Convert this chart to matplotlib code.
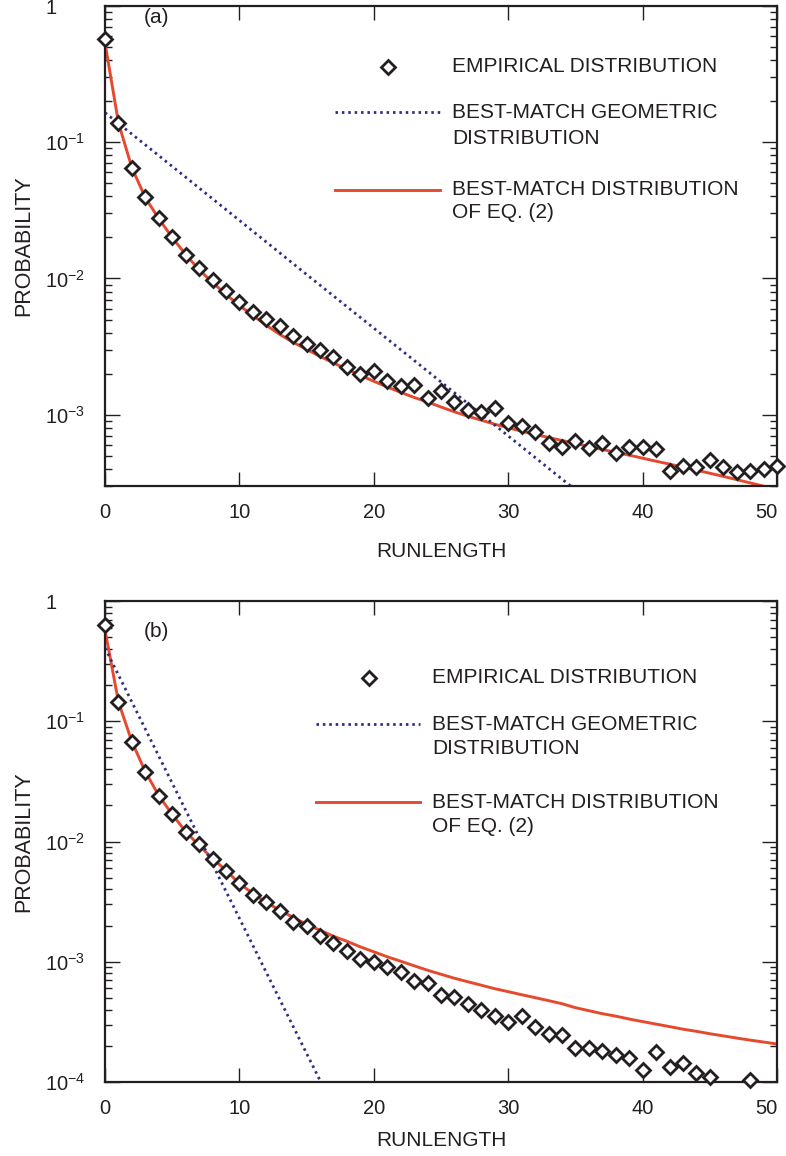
import numpy as np
import matplotlib
matplotlib.use("Agg")
import matplotlib.pyplot as plt
from matplotlib.ticker import FixedLocator, LogLocator, NullFormatter, FuncFormatter

plt.rcParams['font.family'] = ['Liberation Sans', 'DejaVu Sans']
plt.rcParams['mathtext.fontset'] = 'custom'
plt.rcParams['mathtext.rm'] = 'Liberation Sans'
plt.rcParams['mathtext.it'] = 'Liberation Sans:italic'

INK = '#231f20'
RED = '#e64a2e'
NAVY = '#2e2e86'

# ---- panel (a) ----
run_a = np.arange(0, 51)
emp_a = [0.570, 0.139, 0.0650, 0.0399, 0.0280, 0.0203, 0.0150, 0.0120, 0.00967, 0.00803,
         0.00667, 0.00563, 0.00501, 0.00445, 0.00376, 0.00328, 0.00297, 0.00264, 0.00223, 0.00198,
         0.00208, 0.00176, 0.00162, 0.00164, 0.00132, 0.00149, 0.00124, 0.00108, 0.00104, 0.00112,
         0.000867, 0.000824, 0.000745, 0.000618, 0.000578, 0.000640, 0.000569, 0.000618, 0.000522, 0.000578,
         0.000578, 0.000559, 0.000385, 0.000420, 0.000412, 0.000464, 0.000412, 0.000379, 0.000385, 0.000399,
         0.000420]
eq2_a = [0.536, 0.139, 0.0650, 0.0392, 0.0275, 0.0200, 0.0150, 0.0116, 0.00935, 0.00764,
         0.00634, 0.00536, 0.00453, 0.00389, 0.00340, 0.00302, 0.00268, 0.00240, 0.00216, 0.00195,
         0.00176, 0.00160, 0.00146, 0.00134, 0.00124, 0.00114, 0.00105, 0.000975, 0.000912, 0.000852,
         0.000803, 0.000757, 0.000717, 0.000681, 0.000647, 0.000615, 0.000585, 0.000556, 0.000530, 0.000505,
         0.000480, 0.000456, 0.000434, 0.000412, 0.000392, 0.000372, 0.000353, 0.000334, 0.000316, 0.000299,
         0.000284]
geo_x_a = [0, 5, 10, 15, 20, 25, 30, 35]
geo_a = [0.165, 0.0665, 0.0267, 0.0107, 0.00432, 0.00174, 0.000699, 0.000281]

# ---- panel (b) ----
run_b = [0, 1, 2, 3, 4, 5, 6, 7, 8, 9, 10, 11, 12, 13, 14, 15, 16, 17, 18, 19, 20, 21, 22, 23, 24,
         25, 26, 27, 28, 29, 30, 31, 32, 33, 34, 35, 36, 37, 38, 39, 40, 41, 42, 43, 44, 45, 48]
emp_b = [0.632, 0.145, 0.0676, 0.0381, 0.0241, 0.0168, 0.0119, 0.00945, 0.00709, 0.00564,
         0.00448, 0.00356, 0.00312, 0.00262, 0.00213, 0.00197, 0.00163, 0.00143, 0.00122, 0.00105,
         0.000991, 0.000900, 0.000818, 0.000689, 0.000663, 0.000527, 0.000508, 0.000444, 0.000396, 0.000353,
         0.000315, 0.000353, 0.000286, 0.000250, 0.000245, 0.000191, 0.000191, 0.000181, 0.000168, 0.000158,
         0.000126, 0.000177, 0.000133, 0.000144, 0.000119, 0.000110, 0.000104]
eq2_x_b = np.arange(0, 51)
eq2_b = [0.574, 0.145, 0.0676, 0.0381, 0.0241, 0.0168, 0.0121, 0.00927, 0.00723, 0.00575,
         0.00448, 0.00370, 0.00312, 0.00268, 0.00234, 0.00205, 0.00183, 0.00163, 0.00148, 0.00133,
         0.00121, 0.00110, 0.00101, 0.000926, 0.000850, 0.000787, 0.000729, 0.000682, 0.000638, 0.000597,
         0.000564, 0.000532, 0.000503, 0.000475, 0.000448, 0.000415, 0.000392, 0.000370, 0.000353, 0.000334,
         0.000318, 0.000303, 0.000289, 0.000275, 0.000264, 0.000252, 0.000242, 0.000232, 0.000223, 0.000215,
         0.000207]
geo_x_b = [0, 4, 8, 12, 16, 17]
geo_b = [0.407, 0.0513, 0.00647, 0.000815, 0.000103, 0.0000612]

labels = ['EMPIRICAL DISTRIBUTION',
          'BEST-MATCH GEOMETRIC\nDISTRIBUTION',
          'BEST-MATCH DISTRIBUTION\nOF EQ. (2)']

DOTS = dict(color=NAVY, lw=2.0, dashes=(0.9, 1.4))
SOLID = dict(color=RED, lw=2.1)
DIAMOND = dict(ls='none', marker='D', ms=7.5, mfc='white', mec=INK, mew=2)


def ytick_fmt(v, pos):
    e = int(round(np.log10(v)))
    if e == 0:
        return '1'
    return r'$\mathdefault{10^{%d}}$' % e


def style_axis(ax, ymin):
    ax.set_yscale('log')
    ax.set_xlim(0, 50)
    ax.set_ylim(ymin, 1)
    ax.xaxis.set_major_locator(FixedLocator([0, 10, 20, 30, 40, 50]))
    ax.yaxis.set_major_locator(LogLocator(base=10))
    ax.yaxis.set_minor_locator(LogLocator(base=10, subs=np.arange(2, 10)))
    ax.yaxis.set_major_formatter(FuncFormatter(ytick_fmt))
    ax.yaxis.set_minor_formatter(NullFormatter())
    ax.tick_params(which='both', direction='in', top=True, right=True,
                   colors=INK, labelcolor=INK, labelsize=14.5)
    ax.tick_params(axis='x', which='major', length=10, width=1.0, pad=12)
    ax.tick_params(axis='y', which='major', length=10.5, width=1.0, pad=43)
    ax.tick_params(axis='y', which='minor', length=5, width=1.0)
    for lab in ax.get_yticklabels():
        lab.set_horizontalalignment('left')
    ax.get_xticklabels()[-1].set_horizontalalignment('right')
    for s in ax.spines.values():
        s.set_linewidth(1.6)
        s.set_color(INK)
    ax.set_xlabel('RUNLENGTH', fontsize=15, color=INK)
    ax.set_ylabel('PROBABILITY', fontsize=15.5, color=INK)


def draw_key(ax, mk, ln, tx, rows):
    # rows: y positions (axes fraction) of [marker, geometric lines, eq2 lines]
    ax.plot([mk], [rows[0]], transform=ax.transAxes, clip_on=False, **DIAMOND)
    ax.plot(ln, [rows[1][0]] * 2, transform=ax.transAxes, clip_on=False, **DOTS)
    ax.plot(ln, [rows[2][0]] * 2, transform=ax.transAxes, clip_on=False, **SOLID)
    ax.text(tx, rows[0], labels[0], transform=ax.transAxes, fontsize=15,
            color=INK, va='center', ha='left')
    for lab, ys in zip(labels[1:], rows[1:]):
        for line, y in zip(lab.split('\n'), ys):
            ax.text(tx, y, line, transform=ax.transAxes, fontsize=15,
                    color=INK, va='center', ha='left')


fig = plt.figure(figsize=(7.86, 11.56), dpi=100)
ax_a = fig.add_axes([0.1336, 0.5796, 0.855, 0.4152])
ax_b = fig.add_axes([0.1336, 0.0640, 0.855, 0.4161])

# (a)
ax_a.plot(run_a, eq2_a, zorder=2, **SOLID)
ax_a.plot(geo_x_a, geo_a, zorder=2, **DOTS)
ax_a.plot(run_a, emp_a, clip_on=False, zorder=3, **DIAMOND)
style_axis(ax_a, 3e-4)
ax_a.xaxis.set_label_coords(0.5, -0.117)
ax_a.yaxis.set_label_coords(-0.1057, 0.5)
ax_a.text(0.057, 0.977, '(a)', transform=ax_a.transAxes, fontsize=15,
          color=INK, va='center', ha='left')
draw_key(ax_a, 0.421, [0.342, 0.499], 0.516,
         [0.873, (0.779, 0.725), (0.617, 0.569)])

# (b)
ax_b.plot(eq2_x_b, eq2_b, zorder=2, **SOLID)
ax_b.plot(geo_x_b, geo_b, zorder=2, **DOTS)
ax_b.plot(run_b, emp_b, clip_on=False, zorder=3, **DIAMOND)
style_axis(ax_b, 1e-4)
ax_b.xaxis.set_label_coords(0.5, -0.102)
ax_b.yaxis.set_label_coords(-0.1057, 0.5)
ax_b.text(0.057, 0.936, '(b)', transform=ax_b.transAxes, fontsize=15,
          color=INK, va='center', ha='left')
draw_key(ax_b, 0.393, [0.314, 0.469], 0.487,
         [0.840, (0.744, 0.694), (0.582, 0.532)])

fig.savefig('out.png', dpi=100)
